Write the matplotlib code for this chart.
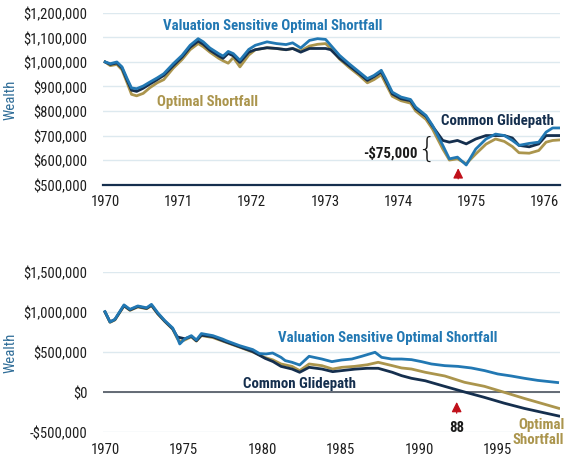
'''
Wealth paths: valuation sensitive optimal shortfall vs optimal shortfall vs common glidepath
'''

import numpy as np
import matplotlib
matplotlib.use('Agg')
import matplotlib.pyplot as plt
import matplotlib.font_manager as fm
from matplotlib.ticker import FuncFormatter

# ---- top panel: 1970 - 1976 (values in $000)
top_years = [1970.00, 1970.07, 1970.16, 1970.23, 1970.30, 1970.36, 1970.43, 1970.52, 1970.61, 1970.71,
             1970.80, 1970.93, 1971.05, 1971.16, 1971.27, 1971.34, 1971.43, 1971.55, 1971.61, 1971.68,
             1971.75, 1971.84, 1971.96, 1972.05, 1972.21, 1972.34, 1972.47, 1972.56, 1972.67, 1972.79,
             1972.90, 1973.01, 1973.08, 1973.20, 1973.33, 1973.47, 1973.58, 1973.67, 1973.77, 1973.83,
             1973.92, 1974.04, 1974.17, 1974.24, 1974.38, 1974.47, 1974.61, 1974.70, 1974.81, 1974.93,
             1975.06, 1975.20, 1975.33, 1975.45, 1975.56, 1975.65, 1975.79, 1975.92, 1976.02, 1976.11,
             1976.20]
top_vsos = [1000, 993, 1000, 980, 932, 894, 891, 902, 918, 935,
            952, 993, 1027, 1068, 1095, 1082, 1057, 1034, 1024, 1043,
            1034, 1007, 1051, 1068, 1082, 1075, 1071, 1078, 1057, 1088,
            1095, 1092, 1068, 1027, 993, 959, 932, 945, 966, 932,
            877, 857, 847, 816, 782, 741, 660, 605, 612, 580,
            645, 686, 706, 700, 680, 660, 668, 673, 714, 731,
            731]
top_os = [1000, 985, 990, 968, 915, 868, 862, 872, 895, 915,
          928, 975, 1010, 1050, 1075, 1062, 1040, 1015, 1005, 995,
          1018, 980, 1028, 1050, 1058, 1055, 1050, 1055, 1045, 1065,
          1072, 1075, 1055, 1012, 978, 945, 915, 928, 948, 912,
          860, 842, 832, 800, 766, 726, 645, 600, 605, 585,
          625, 665, 686, 676, 655, 630, 628, 639, 673, 680,
          682]
top_cg = [1000, 990, 996, 975, 925, 885, 880, 893, 910, 928,
          945, 985, 1020, 1060, 1085, 1072, 1048, 1025, 1015, 1035,
          1025, 998, 1040, 1050, 1058, 1055, 1050, 1055, 1040, 1055,
          1055, 1055, 1050, 1015, 985, 952, 925, 940, 960, 925,
          870, 850, 842, 810, 778, 738, 680, 673, 680, 666,
          686, 700, 700, 700, 690, 660, 654, 666, 700, 700,
          700]

# ---- bottom panel: 1970 - 1999 (values in $000)
bot_years_vsos = [1970.00, 1970.32, 1970.63, 1971.21, 1971.59, 1972.09, 1972.65, 1972.96, 1973.36, 1973.81,
                  1974.31, 1974.60, 1974.76, 1975.08, 1975.50, 1975.82, 1976.14, 1976.87, 1977.50, 1977.72,
                  1978.57, 1979.41, 1979.84, 1980.26, 1980.68, 1981.21, 1981.48, 1981.91, 1982.40, 1983.00,
                  1983.81, 1984.45, 1985.08, 1985.72, 1986.35, 1987.20, 1987.62, 1988.26, 1988.89, 1989.52,
                  1990.16, 1990.79, 1991.64, 1992.48, 1993.33, 1994.18, 1995.02, 1995.87, 1996.71, 1997.56,
                  1998.83]
bot_vsos = [1004, 875, 908, 1088, 1033, 1075, 1052, 1095, 990, 891,
            800, 680, 600, 662, 704, 650, 730, 704, 660, 641,
            579, 530, 480, 475, 487, 433, 392, 371, 337, 446,
            412, 379, 400, 412, 446, 496, 433, 412, 412, 404,
            379, 350, 329, 320, 300, 267, 225, 200, 171, 145,
            118]

bot_years_os = [1970.00, 1970.32, 1970.63, 1971.21, 1971.59, 1972.09, 1972.65, 1972.96, 1973.36, 1973.81,
                1974.31, 1974.60, 1974.76, 1975.08, 1975.50, 1975.82, 1976.14, 1976.87, 1977.72, 1978.57,
                1979.41, 1980.20, 1980.70, 1981.21, 1981.91, 1982.40, 1983.00, 1983.81, 1984.50, 1985.08,
                1985.90, 1986.70, 1987.40, 1988.30, 1988.89, 1989.52, 1990.40, 1991.64, 1992.90, 1994.16,
                1995.43, 1996.70, 1998.90]
bot_os = [1000, 870, 900, 1075, 1020, 1062, 1040, 1080, 975, 880,
          785, 670, 630, 650, 690, 635, 705, 680, 620, 560,
          500, 430, 400, 350, 320, 267, 350, 329, 287, 308,
          320, 340, 371, 329, 300, 287, 246, 200, 121, 71,
          -4, -80, -204]

bot_years_cg = [1970.00, 1970.32, 1970.63, 1971.21, 1971.59, 1972.09, 1972.65, 1972.96, 1973.36, 1973.81,
                1974.31, 1974.60, 1974.76, 1975.08, 1975.50, 1975.82, 1976.14, 1976.87, 1977.72, 1978.57,
                1979.41, 1980.20, 1980.70, 1981.21, 1981.91, 1982.40, 1983.00, 1983.81, 1984.50, 1985.08,
                1985.90, 1986.70, 1987.40, 1988.30, 1988.89, 1989.52, 1990.40, 1991.64, 1992.90, 1994.16,
                1995.43, 1996.70, 1998.90]
bot_cg = [1000, 875, 905, 1080, 1025, 1068, 1045, 1085, 980, 885,
          790, 690, 680, 665, 695, 640, 710, 690, 625, 565,
          505, 420, 380, 320, 287, 246, 308, 287, 254, 267,
          285, 296, 296, 246, 204, 171, 140, 70, 0, -67,
          -140, -205, -300]

top_yticks = [500, 600, 700, 800, 900, 1000, 1100, 1200]
top_xticks = [1970, 1971, 1972, 1973, 1974, 1975, 1976]
bot_yticks = [-500, 0, 500, 1000, 1500]
bot_xticks = [1970, 1975, 1980, 1985, 1990, 1995]

C_VSOS = '#2278b3'
C_OS = '#ab954d'
C_CG = '#152f4e'
C_RED = '#c0101a'
C_GRID = '#dde9ef'
C_WEALTH = '#2e6c97'

# pick a condensed face if one is on the box
names = set(f.name for f in fm.fontManager.ttflist)
if 'Roboto Condensed' in names:
    FAM = 'Roboto Condensed'
elif 'Liberation Sans Narrow' in names:
    FAM = 'Liberation Sans Narrow'
else:
    FAM = 'Roboto'
plt.rcParams['font.family'] = [FAM, 'DejaVu Sans']


def dollars(v, pos):
    v = int(round(v * 1000))
    if v < 0:
        return '-${:,}'.format(-v)
    return '${:,}'.format(v)


fig = plt.figure(figsize=(5.72, 4.64), dpi=100)
rend = fig.canvas.get_renderer()


def fit(s, px, weight='normal'):
    # font size that gives the text the width seen in the picture
    t = fig.text(0, 0, s, fontsize=10, fontweight=weight)
    w = t.get_window_extent(rend).width
    t.remove()
    return 10 * px / w


TFS = fit('$1,200,000', 63)
XFS = fit('1970', 29)
BFS = fit('Valuation Sensitive Optimal Shortfall', 221, 'bold')
WFS = fit('Wealth', 40)


def style_axes(ax, xticks, yticks):
    for s in ax.spines.values():
        s.set_visible(False)
    ax.set_xticks(xticks)
    ax.set_yticks(yticks)
    ax.yaxis.set_major_formatter(FuncFormatter(dollars))
    ax.tick_params(length=0, colors='#1e1e1e')
    ax.tick_params(axis='y', pad=11, labelsize=TFS)
    ax.tick_params(axis='x', pad=7, labelsize=XFS)
    ax.grid(axis='y', color=C_GRID, lw=1.0)
    ax.set_axisbelow(True)
    ax.set_ylabel('Wealth', fontsize=WFS, color=C_WEALTH)
    ax.yaxis.set_label_coords(-0.186, 0.5)


ax1 = fig.add_axes([0.180, 0.600, 0.799, 0.370])
ax2 = fig.add_axes([0.180, 0.0668, 0.799, 0.345])

arrow = dict(arrowstyle='-|>,head_length=0.6,head_width=0.3', color=C_RED, lw=0.9)

# top
ax1.plot(top_years, top_os, color=C_OS, lw=2.0)
ax1.plot(top_years, top_cg, color=C_CG, lw=2.0)
ax1.plot(top_years, top_vsos, color=C_VSOS, lw=2.0)
ax1.set_xlim(1969.97, 1976.21)
ax1.set_ylim(500, 1200)
style_axes(ax1, top_xticks, top_yticks)
ax1.axhline(500, color=C_CG, lw=1.6, zorder=5, clip_on=False)

ax1.text(1972.29, 1149, 'Valuation Sensitive Optimal Shortfall', color=C_VSOS, fontsize=BFS,
         fontweight='bold', ha='center', va='center')
ax1.text(1971.40, 839, 'Optimal Shortfall', color=C_OS, fontsize=BFS,
         fontweight='bold', ha='center', va='center')
ax1.text(1975.36, 765, 'Common Glidepath', color=C_CG, fontsize=BFS,
         fontweight='bold', ha='center', va='center')
ax1.text(1974.27, 630, '-$75,000', color='#1a1a1a', fontsize=BFS,
         fontweight='bold', ha='right', va='center')
ax1.text(1974.39, 644, '{', color='#1a1a1a', fontsize=21, ha='center', va='center',
         family=['DejaVu Sans'], fontweight='light')
ax1.annotate('', xy=(1974.82, 578), xytext=(1974.82, 512), arrowprops=arrow,
             annotation_clip=False)

# bottom
ax2.plot(bot_years_os, bot_os, color=C_OS, lw=2.0)
ax2.plot(bot_years_cg, bot_cg, color=C_CG, lw=2.0)
ax2.plot(bot_years_vsos, bot_vsos, color=C_VSOS, lw=2.0)
ax2.set_xlim(1969.87, 1998.98)
ax2.set_ylim(-500, 1500)
style_axes(ax2, bot_xticks, bot_yticks)
ax2.axhline(0, color='#59606a', lw=1.3, zorder=1)

ax2.text(1988.0, 684, 'Valuation Sensitive Optimal Shortfall', color=C_VSOS, fontsize=BFS,
         fontweight='bold', ha='center', va='center')
ax2.text(1982.42, 112, 'Common Glidepath', color=C_CG, fontsize=BFS,
         fontweight='bold', ha='center', va='center')
ax2.text(1999.25, -494, 'Optimal\nShortfall', color=C_OS, fontsize=BFS, fontweight='bold',
         ha='right', va='center', linespacing=1.1)
ax2.text(1992.40, -440, '88', color='#1a1a1a', fontsize=BFS, fontweight='bold',
         ha='center', va='center')
ax2.annotate('', xy=(1992.40, -90), xytext=(1992.40, -300), arrowprops=arrow,
             annotation_clip=False)

fig.savefig('out.png', dpi=100)
